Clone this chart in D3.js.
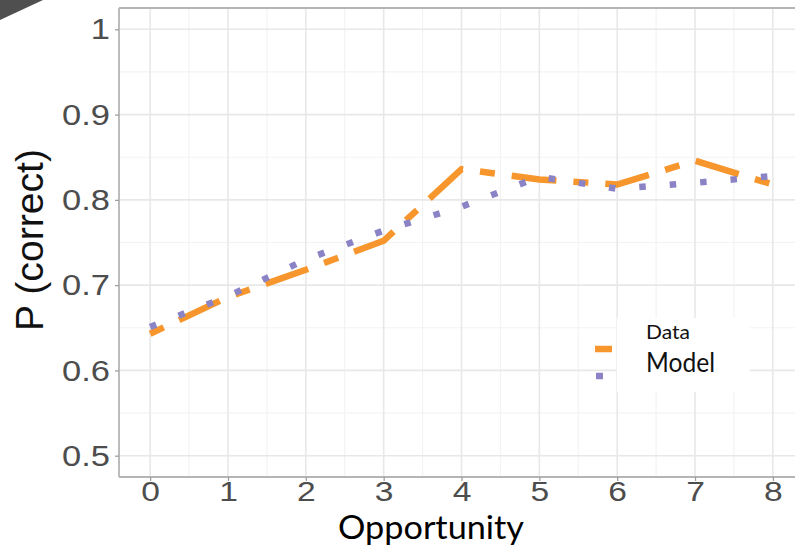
<!DOCTYPE html>
<html><head><meta charset="utf-8">
<script src="https://cdn.jsdelivr.net/npm/d3@7"></script>
<style>body{margin:0;background:#fff}svg{display:block}</style>
</head><body>
<svg id="c" width="795" height="548"></svg>
<script>
const opportunities = [0,1,2,3,4,5,6,7,8];
const dataVals  = [0.643,0.686,0.718,0.752,0.836,0.824,0.818,0.846,0.818];
const modelVals = [0.651,0.687,0.730,0.764,0.792,0.827,0.813,0.820,0.828];
const yTicks = [0.5,0.6,0.7,0.8,0.9,1];
const yTickLabels = ["0.5","0.6","0.7","0.8","0.9","1"];
const xTicks = [0,1,2,3,4,5,6,7,8];
const yMinor = [0.55,0.65,0.75,0.85,0.95];
const xMinor = [0.5,1.5,2.5,3.5,4.5,5.5,6.5,7.5];
const legendLabels = ["Data","Model"];
const colors = {data:"#f7962c", model:"#8a83c6"};

const svg = d3.select("#c");
const L=119, R=804, T=8, B=477;
const x = d3.scaleLinear().domain([-0.4,8.4]).range([L,R]);
const y = d3.scaleLinear().domain([0.475,1.025]).range([B,T]);

// corner triangle
svg.append("path").attr("d","M0,0L43,0L0,20Z").attr("fill","#4f4f4f");

const g = svg.append("g");
// minor grid
g.selectAll(".mx").data(xMinor).join("line").attr("x1",d=>x(d)).attr("x2",d=>x(d)).attr("y1",T).attr("y2",B).attr("stroke","#f3f3f3").attr("stroke-width",1.2);
g.selectAll(".my").data(yMinor).join("line").attr("y1",d=>y(d)).attr("y2",d=>y(d)).attr("x1",L).attr("x2",R).attr("stroke","#f3f3f3").attr("stroke-width",1.2);
// major grid
g.selectAll(".gx").data(xTicks).join("line").attr("x1",d=>x(d)).attr("x2",d=>x(d)).attr("y1",T).attr("y2",B).attr("stroke","#e8e8e8").attr("stroke-width",1.6);
g.selectAll(".gy").data(yTicks).join("line").attr("y1",d=>y(d)).attr("y2",d=>y(d)).attr("x1",L).attr("x2",R).attr("stroke","#e8e8e8").attr("stroke-width",1.6);

// legend white box (behind lines)
svg.append("rect").attr("x",617).attr("y",318).attr("width",133).attr("height",74).attr("fill","#fff");

const line = d3.line().x((d,i)=>x(opportunities[i])).y(d=>y(d));
svg.append("path").datum(dataVals).attr("d",line).attr("fill","none")
  .attr("stroke",colors.data).attr("stroke-width",6.5).attr("stroke-dasharray","15,17,45,17");
svg.append("path").datum(modelVals).attr("d",line).attr("fill","none")
  .attr("stroke",colors.model).attr("stroke-width",6.5).attr("stroke-dasharray","6.5,24");

// axis frame lines
svg.append("line").attr("x1",L).attr("x2",795).attr("y1",T).attr("y2",T).attr("stroke","#b5b5b5").attr("stroke-width",1.8);
svg.append("line").attr("x1",L).attr("x2",L).attr("y1",T).attr("y2",B).attr("stroke","#b5b5b5").attr("stroke-width",1.8);
svg.append("line").attr("x1",L).attr("x2",795).attr("y1",B).attr("y2",B).attr("stroke","#b5b5b5").attr("stroke-width",1.8);

// axes
const yAxis = svg.append("g").attr("transform",`translate(${L},0)`)
  .call(d3.axisLeft(y).tickValues(yTicks).tickFormat((d,i)=>yTickLabels[i]).tickSize(4).tickPadding(5));
const xAxis = svg.append("g").attr("transform",`translate(0,${B})`)
  .call(d3.axisBottom(x).tickValues(xTicks).tickFormat(d3.format("d")).tickSize(4).tickPadding(0));
[yAxis,xAxis].forEach(a=>{
  a.select(".domain").remove();
  a.selectAll(".tick line").attr("stroke","#9a9a9a").attr("stroke-width",1.2);
  a.selectAll(".tick text").attr("fill","#4d4d4d").style("font-family","'Liberation Sans',Arial,sans-serif");
});
yAxis.selectAll(".tick text").style("font-size","30px").attr("transform","scale(1.15,1)").attr("x",-9/1.15);
xAxis.selectAll(".tick text").style("font-size","28px").attr("transform","scale(1.2,1)").attr("x",0);

// titles
svg.append("text").attr("transform","translate(43,240) rotate(-90)").attr("text-anchor","middle")
  .style("font-family","'Liberation Sans',Arial,sans-serif").style("font-size","38px").attr("fill","#111")
  .attr("textLength",182).attr("lengthAdjust","spacingAndGlyphs").text("P (correct)");
svg.append("text").attr("x",431).attr("y",539).attr("text-anchor","middle")
  .style("font-family","Lato,'Open Sans',sans-serif").style("font-size","32px").attr("fill","#000")
  .attr("textLength",186).attr("lengthAdjust","spacingAndGlyphs").text("Opportunity");

// legend
svg.append("line").attr("x1",595).attr("x2",612).attr("y1",349).attr("y2",349).attr("stroke",colors.data).attr("stroke-width",6.5);
svg.append("line").attr("x1",596).attr("x2",603).attr("y1",376).attr("y2",376).attr("stroke",colors.model).attr("stroke-width",6.5);
svg.append("text").attr("x",646).attr("y",339).style("font-family","Lato,sans-serif").style("font-size","20px").attr("fill","#111")
  .attr("textLength",44).attr("lengthAdjust","spacingAndGlyphs").text(legendLabels[0]);
svg.append("text").attr("x",646).attr("y",372).style("font-family","Lato,sans-serif").style("font-size","26px").attr("fill","#111")
  .attr("textLength",69).attr("lengthAdjust","spacingAndGlyphs").text(legendLabels[1]);
</script>
</body></html>
